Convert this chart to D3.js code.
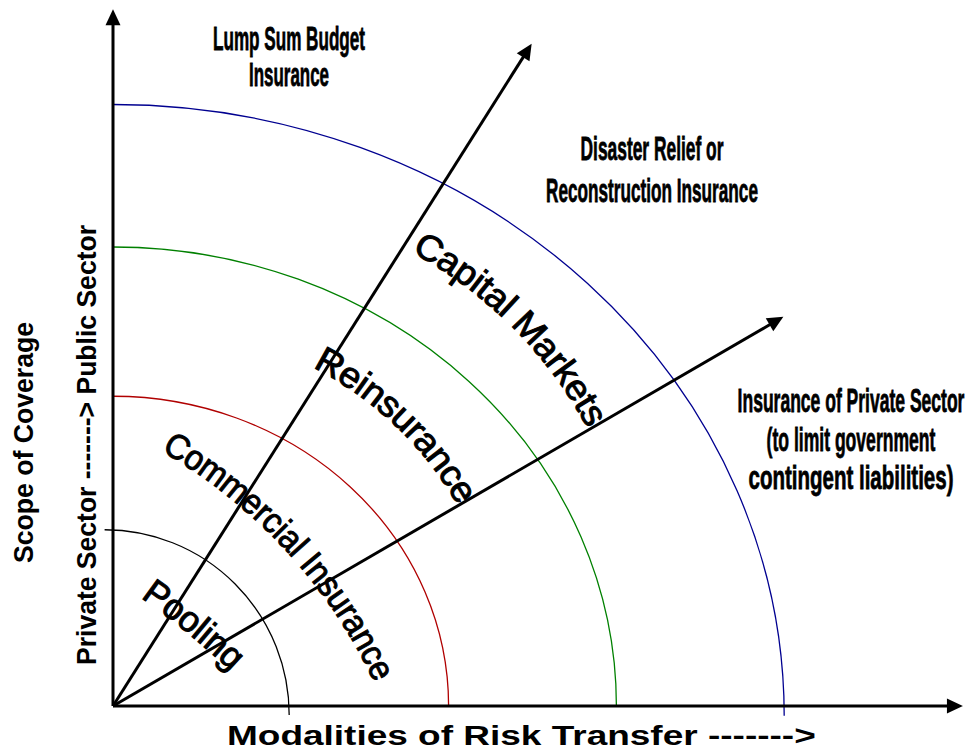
<!DOCTYPE html>
<html>
<head>
<meta charset="utf-8">
<script src="https://cdn.jsdelivr.net/npm/d3@7"></script>
<style>
  html, body { margin: 0; padding: 0; background: #fff; }
  svg { display: block; }
</style>
</head>
<body>
<svg id="chart" width="972" height="751"></svg>
<script>
// rings, in axis units (x and y units differ)
const ringNames = ['Pooling', 'Commercial Insurance', 'Reinsurance', 'Capital Markets']
const ringRx = [2.2, 4, 6, 8]
const ringRy = [2.47, 4.13, 6.12, 8.15]
const ringCx = [-0.1, 0, 0, 0]
const ringCy = [-0.12, 0, 0, -0.13]
const ringColors = ['#000000', '#b00000', '#008000', '#000090']

// arrow tips
const axisEnds = [[10.13, 0], [0, 9.29]]
const spokeEnds = [[4.99, 8.83], [7.99, 5.19]]

// texts
const outcomeLines = [
    ['Lump Sum Budget', 'Insurance'],
    ['Disaster Relief or', 'Reconstruction Insurance'],
    ['Insurance of Private Sector', '(to limit government', 'contingent liabilities)'],
]
const xTitle = 'Modalities of Risk Transfer ------->'
const yTitles = ['Scope of Coverage', 'Private Sector -------> Public Sector']

const svg = d3.select('#chart')
const x = d3.scaleLinear().domain([0, 10]).range([113, 952])
const y = d3.scaleLinear().domain([0, 10]).range([706, -44])

const sans = "'Liberation Sans', Arial, sans-serif"
const narrow = "'Liberation Sans Narrow', 'Liberation Sans', Arial, sans-serif"

// arcs
svg.append('g')
    .attr('class', 'rings')
    .selectAll('path')
    .data(ringNames)
    .join('path')
    .attr('fill', 'none')
    .attr('stroke', (d, i) => ringColors[i])
    .attr('stroke-width', 1.3)
    .attr('d', (d, i) => {
        const cx = x(ringCx[i]), cy = y(ringCy[i])
        const rx = x(ringRx[i]) - x(0), ry = y(0) - y(ringRy[i])
        return `M${cx},${cy - ry} A${rx},${ry} 0 0 1 ${cx + rx},${cy}`
    })

// arrows
const arrow = (g, tip) => {
    const x0 = x(0), y0 = y(0), x1 = x(tip[0]), y1 = y(tip[1])
    const len = Math.hypot(x1 - x0, y1 - y0)
    const ux = (x1 - x0) / len, uy = (y1 - y0) / len
    const head = 16, half = 7.5
    const bx = x1 - ux * head, by = y1 - uy * head
    g.append('line')
        .attr('x1', x0).attr('y1', y0)
        .attr('x2', bx + ux * 2).attr('y2', by + uy * 2)
        .attr('stroke', '#000')
        .attr('stroke-width', 3)
    g.append('path')
        .attr('fill', '#000')
        .attr('d', `M${x1},${y1} L${bx - uy * half},${by + ux * half} L${bx + uy * half},${by - ux * half} Z`)
}
const arrows = svg.append('g').attr('class', 'arrows')
axisEnds.forEach((t) => arrow(arrows, t))
spokeEnds.forEach((t) => arrow(arrows, t))

// curved ring labels: each runs on a circular arc through three points
const labelArcs = [
    [[148, 587], [198, 625], [240, 662]],
    [[168, 440], [308, 556], [386, 677]],
    [[319, 356], [408, 420], [469, 499]],
    [[418, 241], [510, 307], [599, 422]],
]
const labelSize = [36, 35, 36, 36]

const circlePath = (a, b, c) => {
    const d = 2 * (a[0] * (b[1] - c[1]) + b[0] * (c[1] - a[1]) + c[0] * (a[1] - b[1]))
    if (Math.abs(d) < 1e-6) return `M${a} L${c}`
    const sa = a[0] ** 2 + a[1] ** 2, sb = b[0] ** 2 + b[1] ** 2, sc = c[0] ** 2 + c[1] ** 2
    const ux = (sa * (b[1] - c[1]) + sb * (c[1] - a[1]) + sc * (a[1] - b[1])) / d
    const uy = (sa * (c[0] - b[0]) + sb * (a[0] - c[0]) + sc * (b[0] - a[0])) / d
    const r = Math.hypot(a[0] - ux, a[1] - uy)
    return `M${a[0]},${a[1]} A${r},${r} 0 0 1 ${c[0]},${c[1]}`
}

const defs = svg.append('defs')
const labels = svg.append('g').attr('class', 'ring-labels')
ringNames.forEach((name, i) => {
    const p = defs.append('path')
        .attr('id', `arc-${i}`)
        .attr('d', circlePath(...labelArcs[i]))
    const len = p.node().getTotalLength()
    labels.append('text')
        .attr('font-family', sans)
        .attr('font-size', labelSize[i])
        .attr('dominant-baseline', 'central')
        .attr('fill', '#000')
        .attr('stroke', '#000')
        .attr('stroke-width', 1)
        .append('textPath')
        .attr('href', `#arc-${i}`)
        .attr('textLength', len)
        .attr('lengthAdjust', 'spacingAndGlyphs')
        .text(name)
})

// outcome notes, narrow bold, centred lines squeezed to width
const outcomeLayout = [
    { cx: 289, y: [50, 86], w: [152, 80] },
    { cx: 652, y: [160, 202], w: [143, 212] },
    { cx: 851, y: [412, 451, 489], w: [227, 169, 205] },
]
const notes = svg.append('g').attr('class', 'notes')
outcomeLines.forEach((lines, b) => {
    lines.forEach((t, j) => {
        const w = outcomeLayout[b].w[j]
        const txt = notes.append('text')
            .attr('text-anchor', 'middle')
            .attr('font-family', narrow)
            .attr('font-weight', 'bold')
            .attr('font-size', 34)
            .attr('stroke', '#000')
            .attr('stroke-width', 0.8)
            .text(t)
        const natural = txt.node().getComputedTextLength()
        txt.attr('transform', `translate(${outcomeLayout[b].cx},${outcomeLayout[b].y[j]}) scale(${w / natural},1)`)
    })
})

// axis titles
const xt = svg.append('text')
    .attr('font-family', sans)
    .attr('font-weight', 'bold')
    .attr('font-size', 27)
    .text(xTitle)
const xtNatural = xt.node().getComputedTextLength()
xt.attr('transform', `translate(227,745) scale(${589 / xtNatural},1)`)

const yTitleLayout = [
    { x: 33, y: 563, w: 241 },
    { x: 96, y: 665, w: 440 },
]
yTitles.forEach((t, i) => {
    svg.append('text')
        .attr('transform', `translate(${yTitleLayout[i].x},${yTitleLayout[i].y}) rotate(-90)`)
        .attr('font-family', sans)
        .attr('font-weight', 'bold')
        .attr('font-size', 27)
        .attr('textLength', yTitleLayout[i].w)
        .attr('lengthAdjust', 'spacingAndGlyphs')
        .text(t)
})
</script>
</body>
</html>
